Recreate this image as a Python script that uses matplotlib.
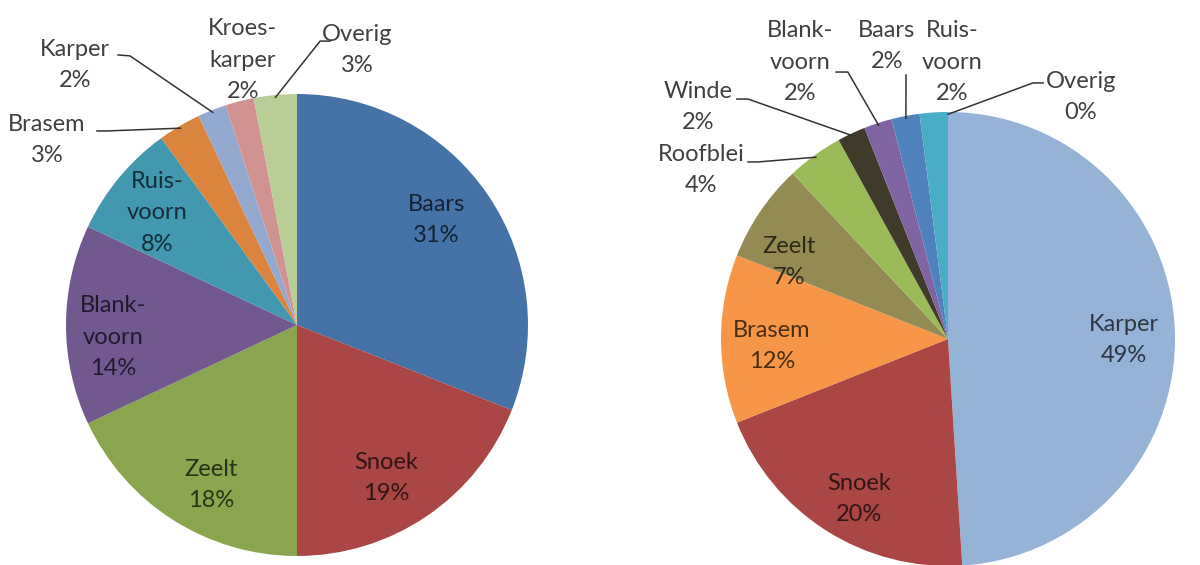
import numpy as np
import matplotlib
matplotlib.use("Agg")
import matplotlib.pyplot as plt
from matplotlib.colors import to_rgb

plt.rcParams['font.family'] = ['Lato', 'DejaVu Sans']

# ---- data ----
left_names = ["Baars", "Snoek", "Zeelt", "Blank-\nvoorn", "Ruis-\nvoorn",
              "Brasem", "Karper", "Kroes-\nkarper", "Overig"]
left_values = [31, 19, 18, 14, 8, 3, 2, 2, 3]
left_colors = ["#4572A7", "#AA4643", "#89A54E", "#71588F", "#4198AF",
               "#DB843D", "#93A9CF", "#D19392", "#B9CD96"]

right_names = ["Karper", "Snoek", "Brasem", "Zeelt", "Roofblei", "Winde",
               "Blank-\nvoorn", "Baars", "Ruis-\nvoorn", "Overig"]
right_values = [49, 20, 12, 7, 4, 2, 2, 2, 2, 0]
right_colors = ["#95B3D7", "#AA4643", "#F79646", "#948A54", "#9BBB59",
                "#3F3A2A", "#8064A2", "#4F81BD", "#4BACC6", "#B9CD96"]

# ---- label layout (pie units, radius = 1) ----
# (x, y, inside?)
left_label_pos = [(0.602, 0.455, True), (0.385, -0.662, True),
                  (-0.372, -0.693, True), (-0.797, -0.052, True),
                  (-0.606, 0.485, True), (-1.082, 0.801, False),
                  (-0.961, 1.126, False), (-0.234, 1.147, False),
                  (0.260, 1.190, False)]
# leader lines: index -> (start, elbow)
left_leaders = {5: ((-0.866, 0.840), (-0.823, 0.840)),
                6: ((-0.775, 1.169), (-0.723, 1.165)),
                8: ((0.143, 1.229), (0.100, 1.229))}

right_label_pos = [(0.775, -0.004, True), (-0.392, -0.705, True),
                   (-0.775, -0.031, True), (-0.700, 0.339, True),
                   (-1.088, 0.744, False), (-1.101, 1.022, False),
                   (-0.652, 1.220, False), (-0.269, 1.291, False),
                   (0.018, 1.220, False), (0.586, 1.066, False)]
right_leaders = {4: ((-0.881, 0.780), (-0.837, 0.780)),
                 5: ((-0.930, 1.057), (-0.881, 1.057)),
                 6: ((-0.493, 1.176), (-0.441, 1.176)),
                 7: ((-0.185, 1.163), (-0.185, 1.163)),
                 9: ((0.419, 1.128), (0.374, 1.128))}

W, H = 1200, 565


def dark(c, f=0.3):
    r, g, b = to_rgb(c)
    return (r * f, g * f, b * f)


def draw_pie(fig, cx, cy, r, names, values, colors, label_pos, leaders):
    ax = fig.add_axes([(cx - r) / W, (H - cy - r) / H, 2 * r / W, 2 * r / H])
    wedges, _ = ax.pie(values, colors=colors, startangle=90, counterclock=False,
                       radius=1, wedgeprops=dict(linewidth=0))
    ax.set_xlim(-1, 1)
    ax.set_ylim(-1, 1)
    ax.set_axis_off()

    for i, (name, val) in enumerate(zip(names, values)):
        x, y, inside = label_pos[i]
        col = dark(colors[i]) if inside else "#404040"
        ax.text(x, y, f"{name}\n{val}%", ha="center", va="center",
                fontsize=17, color=col, linespacing=1.6, clip_on=False)
        if i in leaders:
            start, elbow = leaders[i]
            w = wedges[i]
            mid = np.deg2rad((w.theta1 + w.theta2) / 2)
            end = (0.99 * np.cos(mid), 0.99 * np.sin(mid))
            ax.plot([start[0], elbow[0], end[0]], [start[1], elbow[1], end[1]],
                    color="#333333", lw=1.1, clip_on=False)
    return ax


fig = plt.figure(figsize=(12, 5.65), dpi=100)
draw_pie(fig, 297, 325, 231, left_names, left_values, left_colors,
         left_label_pos, left_leaders)
draw_pie(fig, 948, 339, 227, right_names, right_values, right_colors,
         right_label_pos, right_leaders)

fig.savefig("out.png", dpi=100)
